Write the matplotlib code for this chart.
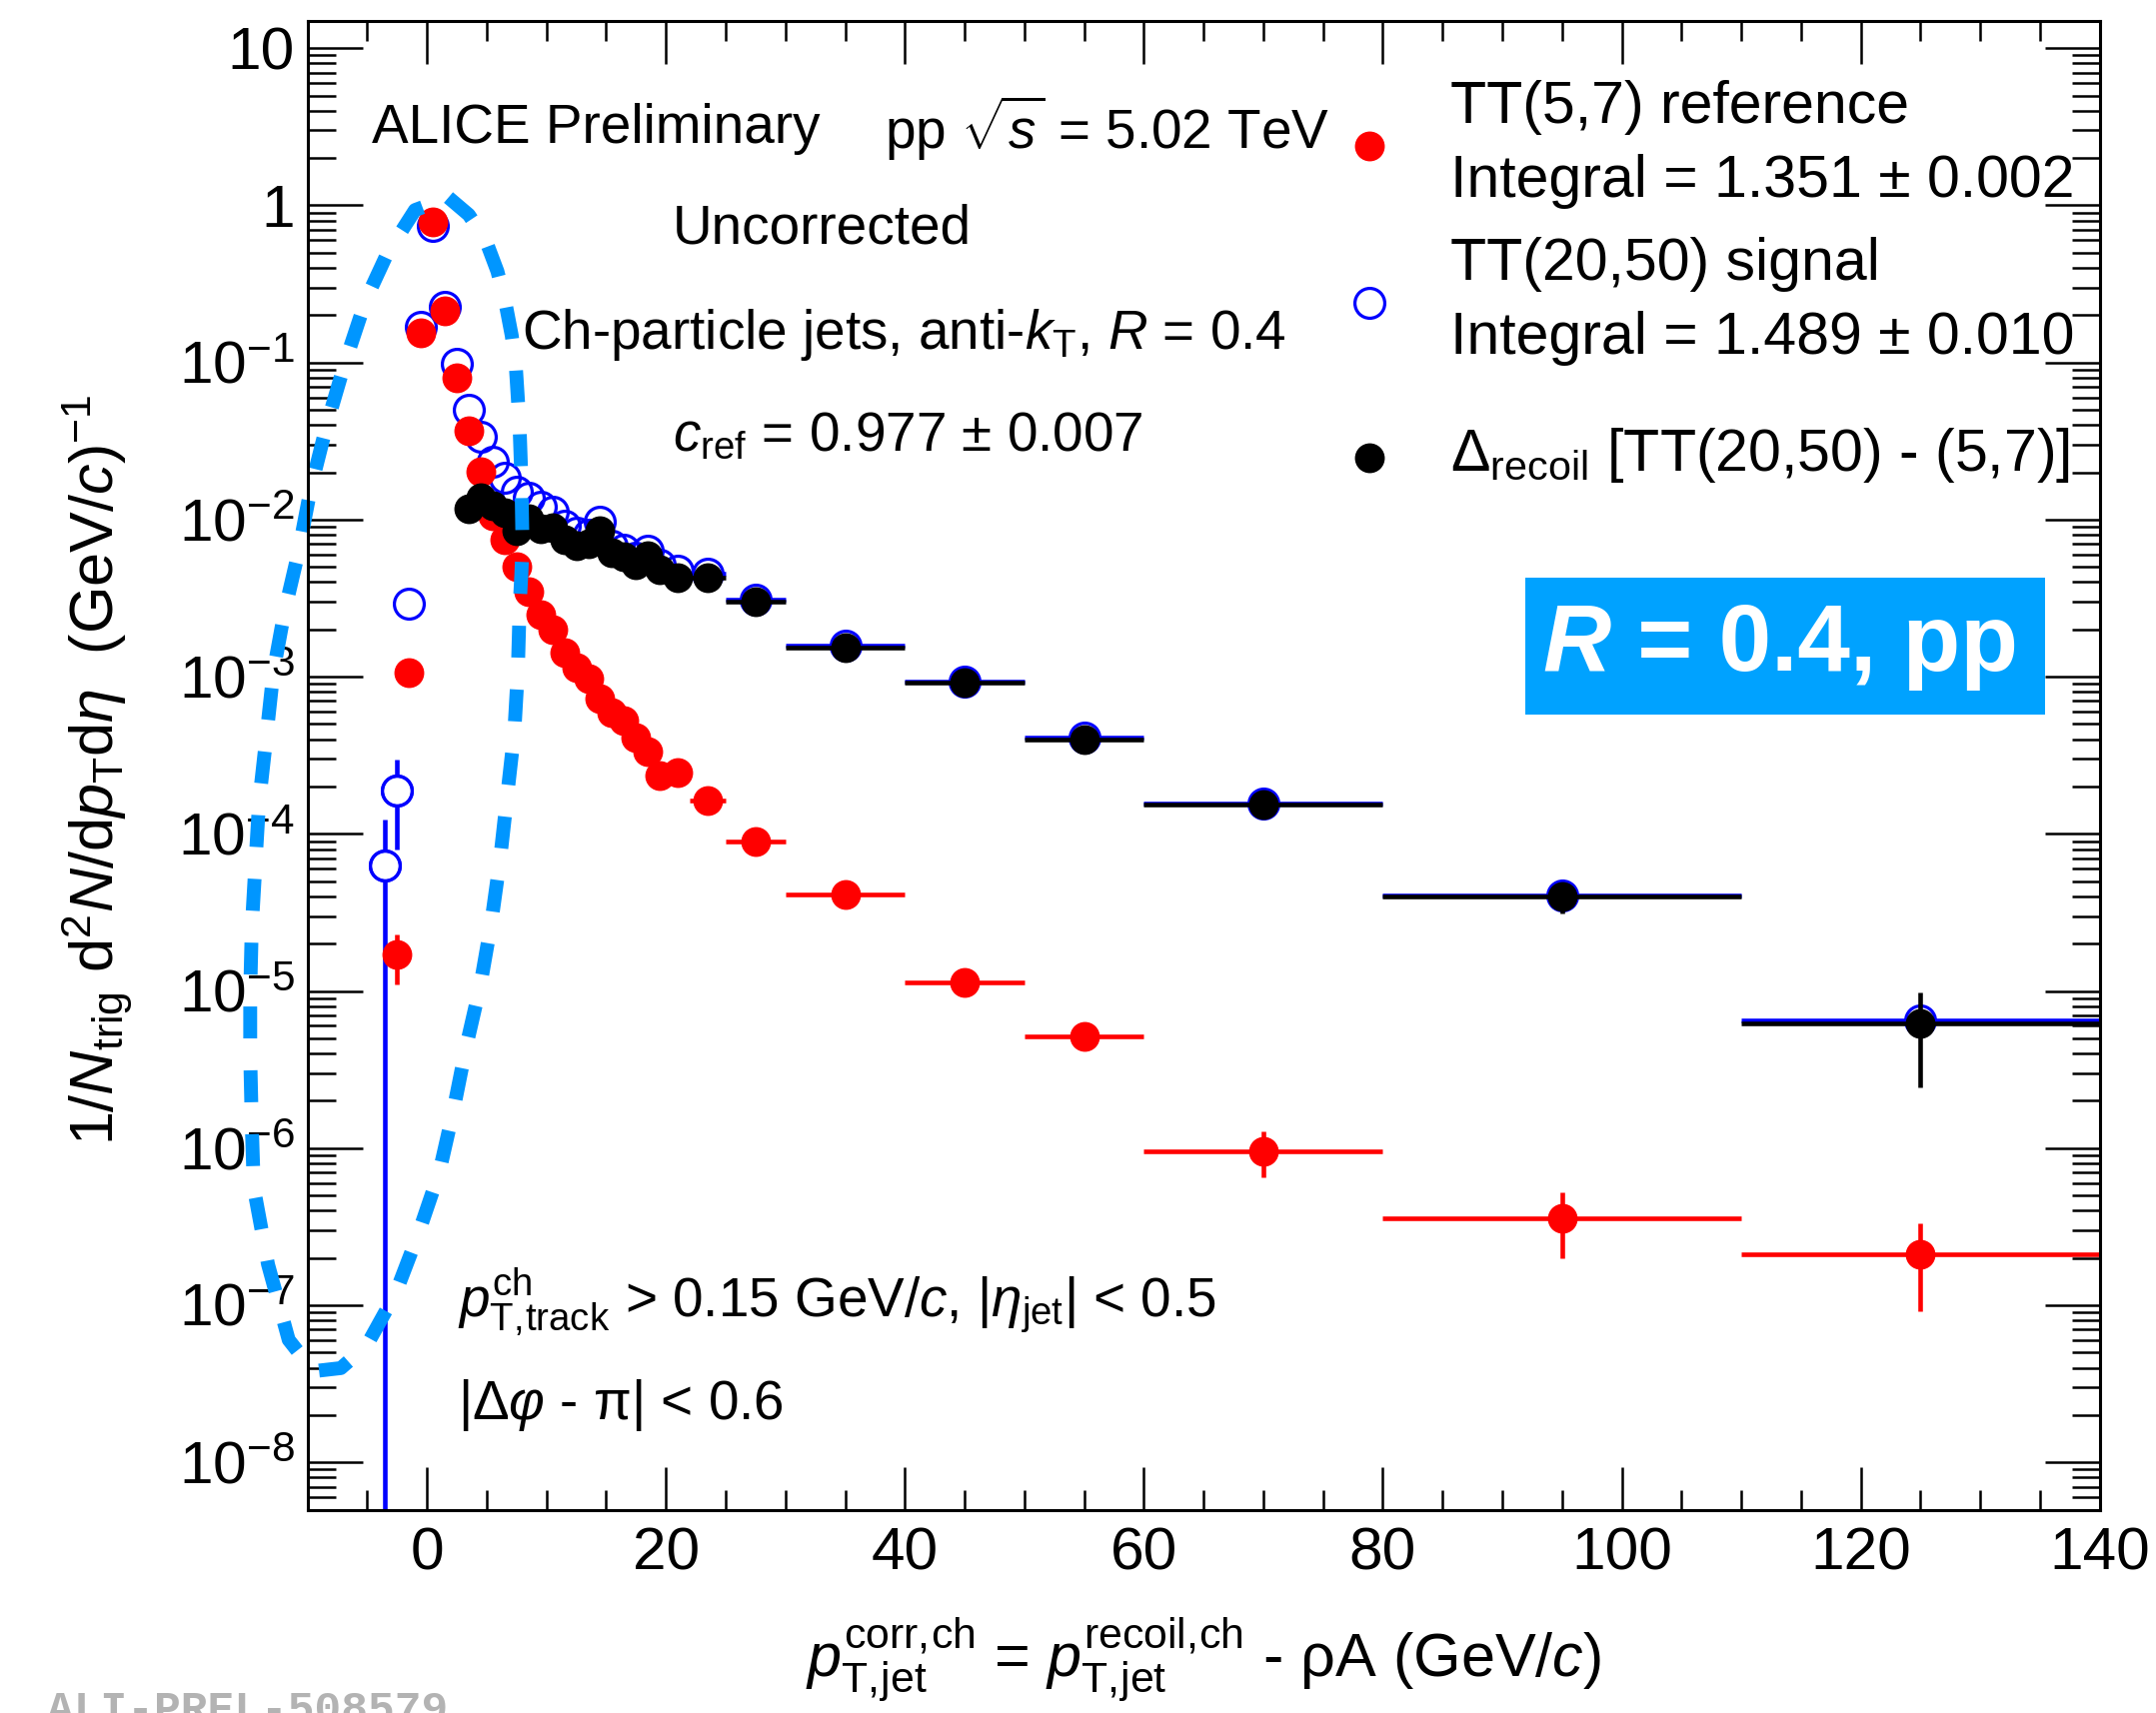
import numpy as np
import matplotlib.pyplot as plt
from matplotlib.ticker import FixedLocator, FixedFormatter, LogLocator, MultipleLocator, NullFormatter

plt.rcParams['font.family'] = ['Liberation Sans', 'DejaVu Sans']
plt.rcParams['mathtext.fontset'] = 'custom'
plt.rcParams['mathtext.rm'] = 'Liberation Sans'
plt.rcParams['mathtext.it'] = 'Liberation Sans:italic'
plt.rcParams['mathtext.bf'] = 'Liberation Sans:bold'

nan = np.nan

# bin edges of the recoil jet pT histograms (GeV/c)
pt_edges = [-4, -3, -2, -1, 0, 1, 2, 3, 4, 5, 6, 7, 8, 9, 10, 11, 12, 13, 14,
            15, 16, 17, 18, 19, 20, 22, 25, 30, 40, 50, 60, 80, 110, 140]

# TT(20,50) signal (open blue)
signal = [6.3e-5, 1.88e-4, 2.9e-3, 0.169, 0.74, 0.225, 0.0975, 0.050, 0.0337,
          0.0234, 0.0185, 0.0150, 0.0138, 0.0120, 0.0112, 0.0092, 0.0082, 0.0080,
          0.0097, 0.0068, 0.0064, 0.0057, 0.0063, 0.0052,
          0.0047, 0.0045, 0.0031, 1.58e-3, 9.3e-4, 4.1e-4, 1.56e-4, 4.05e-5, 6.5e-6]

# TT(5,7) reference (red)
reference = [nan, 1.7e-5, 1.07e-3, 0.154, 0.78, 0.214, 0.080, 0.037, 0.0203,
             0.0106, 7.4e-3, 5.0e-3, 3.47e-3, 2.5e-3, 2.0e-3, 1.42e-3, 1.15e-3, 9.7e-4,
             7.3e-4, 5.9e-4, 5.25e-4, 4.1e-4, 3.35e-4, 2.34e-4,
             2.47e-4, 1.62e-4, 8.9e-5, 4.1e-5, 1.13e-5, 5.14e-6, 9.5e-7, 3.6e-7, 2.12e-7]

# Delta_recoil (black)
delta = [nan, nan, nan, nan, nan, nan, nan, 0.0117, 0.0138,
         0.0122, 0.0110, 0.0085, 0.0102, 0.0087, 0.0089, 0.0075, 0.0068, 0.0070,
         0.0085, 0.0062, 0.0058, 0.0052, 0.0059, 0.0048,
         0.0043, 0.0043, 0.0030, 1.54e-3, 9.2e-4, 4.0e-4, 1.54e-4, 3.98e-5, 6.2e-6]

# visible vertical error bars: bin centre, lower end, upper end
sig_err_x = [-3.5, -2.5]
sig_err_lo = [1e-12, 8.0e-5]
sig_err_hi = [1.24e-4, 2.96e-4]
ref_err_x = [-2.5, 55, 70, 95, 125]
ref_err_lo = [1.1e-5, 4.7e-6, 6.5e-7, 2.0e-7, 9.1e-8]
ref_err_hi = [2.3e-5, 5.6e-6, 1.28e-6, 5.2e-7, 3.3e-7]
del_err_x = [95, 125]
del_err_lo = [3.1e-5, 2.44e-6]
del_err_hi = [4.6e-5, 9.8e-6]

# hand drawn dashed loop around the low-pT region (x, log10 y)
loop_x = [1.8, 3.5, 4.92, 5.9, 6.57, 7.1, 7.46, 7.75, 7.91, 8.0, 7.9, 7.76, 7.61,
          7.31, 6.72, 6.12, 5.37, 4.48, 3.28, 2.23, 1.04, -0.77, -2.64, -5.04,
          -7.2, -9.5, -11.57, -13.3, -14.49, -14.66, -14.79, -14.79, -14.66,
          -14.35, -14.05, -13.45, -12.85, -11.95, -10.76, -9.72, -8.37, -6.88,
          -5.09, -3.29, -1.0, 1.8]
loop_logy = [0.05, -0.06, -0.222, -0.42, -0.62, -0.83, -1.05, -1.4, -1.755, -2.165,
             -2.35, -2.55, -2.96, -3.357, -3.755, -4.164, -4.573, -4.96, -5.356,
             -5.755, -6.152, -6.556, -6.927, -7.256, -7.40, -7.42, -7.22, -6.74,
             -6.253, -5.845, -5.413, -5.005, -4.596, -4.187, -3.80, -3.39, -2.97,
             -2.597, -2.21, -1.80, -1.393, -1.006, -0.597, -0.302, -0.03, 0.05]

edges = np.array(pt_edges, dtype=float)
centers = 0.5 * (edges[:-1] + edges[1:])
# ROOT does not draw the bar inside the marker, so 1 GeV bins show no x bar
wide = (edges[1:] - edges[:-1]) > 1
xerr = [np.where(wide, centers - edges[:-1], 0), np.where(wide, edges[1:] - centers, 0)]


def yerr_for(vals, ex, elo, ehi):
    vals = np.array(vals, dtype=float)
    lo = np.zeros_like(vals)
    hi = np.zeros_like(vals)
    for x, l, h in zip(ex, elo, ehi):
        i = np.argmin(np.abs(centers - x))
        lo[i] = vals[i] - l
        hi[i] = h - vals[i]
    return vals, [lo, hi]


fig = plt.figure(figsize=(21.57, 17.14), dpi=100)
ax = fig.add_axes([0.1426, 0.1187, 0.9739 - 0.1426, 0.988 - 0.1187])

ms = 21.5
elw = 3.3

sig, sig_yerr = yerr_for(signal, sig_err_x, sig_err_lo, sig_err_hi)
ax.errorbar(centers, sig, xerr=xerr, yerr=sig_yerr, fmt='o', color='#0000ff',
            mfc='none', mec='#0000ff', mew=2.3, ms=ms, elinewidth=elw, capsize=0, zorder=2.0)
# white inside of the open circles where the error bar passes through
has_err = np.isin(centers, sig_err_x)
ax.plot(centers[has_err], sig[has_err], 'o', mfc='white', mec='#0000ff', mew=2.3,
        ms=ms, zorder=2.05)

ref, ref_yerr = yerr_for(reference, ref_err_x, ref_err_lo, ref_err_hi)
ax.errorbar(centers, ref, xerr=xerr, yerr=ref_yerr, fmt='o', color='#ff0000',
            mew=0, ms=ms, elinewidth=elw, capsize=0, zorder=2.1)

dlt, del_yerr = yerr_for(delta, del_err_x, del_err_lo, del_err_hi)
ax.errorbar(centers, dlt, xerr=xerr, yerr=del_yerr, fmt='o', color='black',
            mew=0, ms=ms, elinewidth=elw, capsize=0, zorder=2.2)

ax.plot(loop_x, 10.0 ** np.array(loop_logy), color='#0096ff', lw=10,
        dashes=(2.3, 2.3), dash_capstyle='butt', clip_on=False, zorder=2.4)

ax.set_yscale('log')
ax.set_xlim(-10, 140)
ax.set_ylim(5e-9, 15)

ytick_vals = 10.0 ** np.arange(-8, 2)
ytick_labels = [r'$10^{-%d}$' % k for k in range(8, 0, -1)] + ['1', '10']
ax.yaxis.set_major_locator(FixedLocator(ytick_vals))
ax.yaxis.set_major_formatter(FixedFormatter(ytick_labels))
ax.yaxis.set_minor_locator(LogLocator(base=10, subs=np.arange(2, 10), numticks=100))
ax.yaxis.set_minor_formatter(NullFormatter())
ax.xaxis.set_major_locator(MultipleLocator(20))
ax.xaxis.set_minor_locator(MultipleLocator(5))

ax.tick_params(which='both', direction='in', top=True, right=True, width=1.8,
               labelsize=43.5)
ax.tick_params(axis='x', which='major', length=31, pad=12)
ax.tick_params(axis='x', which='minor', length=14.5)
ax.tick_params(axis='y', which='major', length=39.5, pad=9)
ax.tick_params(axis='y', which='minor', length=20)
for sp in ax.spines.values():
    sp.set_linewidth(2.2)

ax.set_xlabel(r'$p_{\rm T,\!jet}^{\rm corr,\!ch}$ = $p_{\rm T,\!jet}^{\rm recoil,\!ch}$ - ρA (GeV/$c$)',
              fontsize=44, va='center')
ax.xaxis.set_label_coords(0.5, -0.101)
ax.set_ylabel(r'1/$N_{\rm trig}$ d$^{2}N$/d$p_{\rm T}$d$\eta$  (GeV/$c$)$^{-1}$',
              fontsize=44, va='center')
ax.yaxis.set_label_coords(-0.118, 0.497)

tsz = 39.5
ax.text(0.0357, 0.9275, 'ALICE Preliminary', transform=ax.transAxes, fontsize=tsz, va='center')
ax.text(0.3218, 0.9275, r'pp $\sqrt{s}$ = 5.02 TeV', transform=ax.transAxes, fontsize=tsz, va='center')
ax.text(0.2037, 0.8600, 'Uncorrected', transform=ax.transAxes, fontsize=tsz, va='center')
ax.text(0.1193, 0.7890, r'Ch-particle jets, anti-$k_{\rm T}$, $R$ = 0.4', transform=ax.transAxes,
        fontsize=tsz, va='center')
ax.text(0.2037, 0.7200, r'$c_{\rm ref}$ = 0.977 ± 0.007', transform=ax.transAxes, fontsize=tsz, va='center')
ax.text(0.0839, 0.1394, r'$p_{\rm T,\!track}^{\rm ch}$ > 0.15 GeV/$c$, |$\eta_{\rm jet}$| < 0.5',
        transform=ax.transAxes, fontsize=tsz, va='center')
ax.text(0.0839, 0.0701, r'|Δ$\varphi$ - π| < 0.6', transform=ax.transAxes, fontsize=tsz, va='center')

# legend, drawn by hand to keep the ROOT layout
lsz = 42.5
ax.plot([0.5926], [0.916], 'o', transform=ax.transAxes, color='#ff0000', mew=0, ms=ms)
ax.plot([0.5926], [0.8107], 'o', transform=ax.transAxes, mfc='none', mec='#0000ff', mew=2.3, ms=ms)
ax.plot([0.5926], [0.7064], 'o', transform=ax.transAxes, color='black', mew=0, ms=ms)
ax.text(0.6379, 0.9415, 'TT(5,7) reference', transform=ax.transAxes, fontsize=lsz, va='center')
ax.text(0.6379, 0.8917, 'Integral = 1.351 ± 0.002', transform=ax.transAxes, fontsize=lsz, va='center')
ax.text(0.6379, 0.8363, 'TT(20,50) signal', transform=ax.transAxes, fontsize=lsz, va='center')
ax.text(0.6379, 0.7864, 'Integral = 1.489 ± 0.010', transform=ax.transAxes, fontsize=lsz, va='center')
ax.text(0.6379, 0.7079, r'$\Delta_{\rm recoil}$ [TT(20,50) - (5,7)]', transform=ax.transAxes,
        fontsize=lsz, va='center')

# R = 0.4, pp badge
ax.add_patch(plt.Rectangle((0.6793, 0.5337), 0.9693 - 0.6793, 0.626 - 0.5337,
                           transform=ax.transAxes, color='#00a2ff', lw=0, zorder=3))
r_txt = ax.text(0.6893, 0.550, 'R', transform=ax.transAxes, fontsize=68, color='white',
                fontweight='bold', fontstyle='italic', ha='left', va='bottom', zorder=4)
ax.annotate(' = 0.4, pp', xy=(1, 0), xycoords=r_txt, fontsize=68, color='white',
            fontweight='bold', ha='left', va='bottom', zorder=4)

fig.text(0.0218, -0.0053, 'ALI-PREL-508579', fontsize=32, color='#b3b3b3',
         family='Liberation Mono', fontweight='bold', va='baseline')

fig.savefig('out.png', dpi=100)
